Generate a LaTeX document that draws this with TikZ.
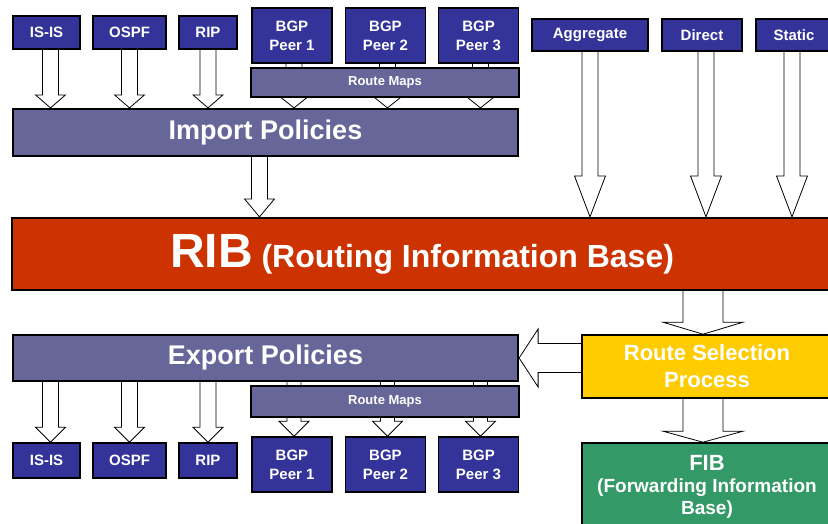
\documentclass[tikz,border=0pt]{standalone}
\usepackage{fontspec}
\setmainfont{Liberation Sans}
\usetikzlibrary{calc,backgrounds}

\definecolor{srcblue}{HTML}{333399}
\definecolor{mapgrey}{HTML}{666699}
\definecolor{ribred}{HTML}{CC3300}
\definecolor{selyellow}{HTML}{FFCC00}
\definecolor{fibgreen}{HTML}{339966}

% hollow block arrows: from, to, half shaft, half head, head length
\newcommand{\blockdown}[5]{%
	\draw[hollow] let \p1=(#1), \p2=(#2) in
		(\x1-#3,\y1) -- (\x1-#3,\y2+#5) -- (\x1-#4,\y2+#5) -- (\x1,\y2)
		-- (\x1+#4,\y2+#5) -- (\x1+#3,\y2+#5) -- (\x1+#3,\y1);
}
\newcommand{\blockleft}[5]{%
	\draw[hollow] let \p1=(#1), \p2=(#2) in
		(\x1,\y1+#3) -- (\x2+#5,\y1+#3) -- (\x2+#5,\y1+#4) -- (\x2,\y1)
		-- (\x2+#5,\y1-#4) -- (\x2+#5,\y1-#3) -- (\x1,\y1-#3);
}

\begin{document}
\begin{tikzpicture}[
		x=1pt, y=-1pt,
		box/.style={draw=black, line width=1.6pt, text=white, inner sep=0pt, align=center},
		source/.style={box, fill=srcblue, minimum height=33pt, font=\fontsize{15}{19}\selectfont\bfseries},
		peer/.style={source, minimum width=80pt, minimum height=55pt},
		policy/.style={box, line width=2.2pt, fill=mapgrey, minimum width=505pt, font=\fontsize{27}{30}\selectfont\bfseries},
		maps/.style={box, fill=mapgrey, minimum width=268pt, font=\fontsize{13}{15}\selectfont\bfseries},
		hollow/.style={draw=black, fill=white, line width=0.8pt, line join=miter}
	]
	\useasboundingbox (0,0) rectangle (828,523);
	\clip (0,0) rectangle (828,523);

	% import side
	\node[source, minimum width=67pt] (isisin) at (46.5,32.5) {IS-IS};
	\node[source, minimum width=73pt] (ospfin) at (129.5,32.5) {OSPF};
	\node[source, minimum width=58pt] (ripin) at (208,32.5) {RIP};
	\node[peer] (peerin1) at (292,35.5) {BGP\\Peer 1};
	\node[peer] (peerin2) at (385.5,35.5) {BGP\\Peer 2};
	\node[peer] (peerin3) at (478.5,35.5) {BGP\\Peer 3};
	\node[maps, minimum height=29pt] (mapsin) at (385,82.5) {Route Maps};
	\node[policy, minimum height=47pt] (import) at (265.5,132.5) {Import Policies};

	\node[source, minimum width=116pt, minimum height=32pt] (aggr) at (590,35) {Aggregate};
	\node[source, minimum width=80pt, minimum height=32pt] (direct) at (702,35) {Direct};
	\node[source, minimum width=76pt, minimum height=32pt] (static) at (794,35) {Static};

	% the RIB
	\node[box, line width=2.2pt, fill=ribred, minimum width=820pt, minimum height=72pt,
		font=\fontsize{32}{36}\selectfont\bfseries] (rib) at (422,254)
		{{\fontsize{48}{50}\selectfont RIB} (Routing Information Base)};

	% export side
	\node[box, fill=selyellow, minimum width=250pt, minimum height=63pt,
		font=\fontsize{22}{27}\selectfont\bfseries] (select) at (707,366.5) {Route Selection\\Process};
	\node[box, fill=fibgreen, minimum width=250pt, minimum height=87pt,
		font=\fontsize{19}{22}\selectfont\bfseries] (fib) at (707,486.5)
		{{\fontsize{22}{24}\selectfont FIB}\\(Forwarding Information\\Base)};

	\node[policy, minimum height=46pt] (export) at (265.5,358) {Export Policies};
	\node[maps, minimum height=31pt] (mapsout) at (385,401.5) {Route Maps};
	\node[source, minimum width=67pt, minimum height=35pt] (isisout) at (46.5,460.5) {IS-IS};
	\node[source, minimum width=73pt, minimum height=35pt] (ospfout) at (129.5,460.5) {OSPF};
	\node[source, minimum width=58pt, minimum height=35pt] (ripout) at (208,460.5) {RIP};
	\node[peer] (peerout1) at (292,464.5) {BGP\\Peer 1};
	\node[peer] (peerout2) at (385.5,464.5) {BGP\\Peer 2};
	\node[peer] (peerout3) at (478.5,464.5) {BGP\\Peer 3};

	\begin{pgfonlayer}{background}
		\blockdown{[xshift=4pt]isisin.south}{import.north}{8pt}{15pt}{13pt}
		\blockdown{ospfin.south}{import.north}{8pt}{15pt}{13pt}
		\blockdown{ripin.south}{import.north}{8pt}{15pt}{13pt}
		\foreach \i in {1,2,3}{
			\blockdown{[xshift=2pt]peerin\i.south}{import.north}{8pt}{15pt}{12pt}
		}
		\blockdown{[xshift=-6pt]import.south}{rib.north}{8pt}{15pt}{18pt}
		\blockdown{aggr.south}{rib.north}{8pt}{15.5pt}{41pt}
		\blockdown{[xshift=4pt]direct.south}{rib.north}{8pt}{15.5pt}{41pt}
		\blockdown{[xshift=-2pt]static.south}{rib.north}{8pt}{15.5pt}{41pt}
		\blockdown{[xshift=-4pt]select.north |- rib.south}{select.north}{20pt}{40pt}{12pt}
		\blockdown{[xshift=-4pt]select.south}{fib.north}{20pt}{40pt}{11pt}
		\blockleft{select.west |- export.east}{export.east}{14.5pt}{29pt}{19pt}
		\blockdown{[xshift=4pt]export.south -| isisout.north}{isisout.north}{8pt}{15pt}{15pt}
		\blockdown{export.south -| ospfout.north}{ospfout.north}{8pt}{15pt}{15pt}
		\blockdown{export.south -| ripout.north}{ripout.north}{8pt}{15pt}{15pt}
		\foreach \i in {1,2,3}{
			\blockdown{[xshift=2pt]peerout\i.north |- export.south}{peerout\i.north}{7pt}{15pt}{15pt}
		}
	\end{pgfonlayer}
\end{tikzpicture}
\end{document}
